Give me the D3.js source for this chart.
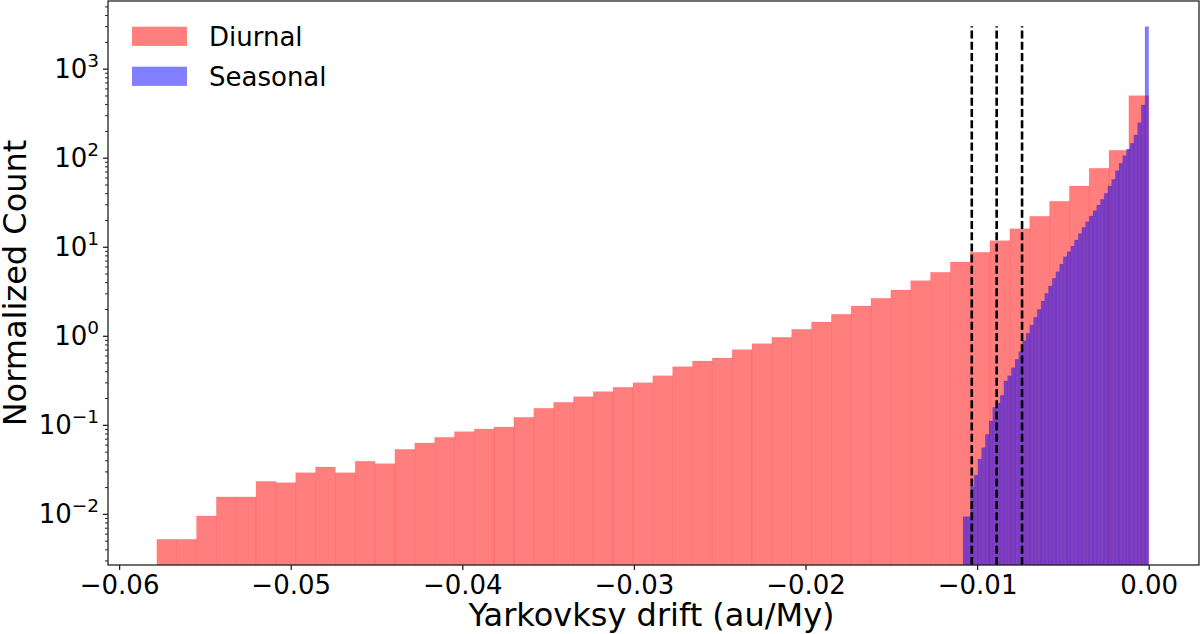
<!DOCTYPE html>
<html>
<head>
<meta charset="utf-8">
<script src="https://cdn.jsdelivr.net/npm/d3@7"></script>
<style>
  body { margin: 0; background: #fff; }
  text { font-family: "DejaVu Sans", sans-serif; fill: #000; }
</style>
</head>
<body>
<div id="chart"></div>
<script>
// histogram data (normalized counts per bin)
let diurnalRange = [-0.0578, 0.0]
let diurnalCounts = [0.00518, 0.00518, 0.00947, 0.0155, 0.0155, 0.0232, 0.0224, 0.0290, 0.0336, 0.0290,
    0.0390, 0.0366, 0.0531, 0.0625, 0.0724, 0.0838, 0.0898, 0.0946, 0.1215, 0.1534,
    0.179, 0.207, 0.236, 0.264, 0.297, 0.356, 0.450, 0.521, 0.563, 0.698,
    0.815, 0.962, 1.183, 1.429, 1.744, 2.161, 2.638, 3.269, 4.157, 5.168,
    6.743, 8.666, 11.70, 15.95, 21.98, 32.4, 48.1, 76.1, 121.2, 497]

let seasonalRange = [-0.01082, 0.0]
let seasonalCounts = [0.0093, 0.0093, 0.0200, 0.0273, 0.0413, 0.0554, 0.0783, 0.1104, 0.1574, 0.176,
    0.2147, 0.311, 0.356, 0.438, 0.545, 0.663, 0.881, 1.067, 1.322, 1.614,
    1.984, 2.459, 3.0, 3.625, 4.424, 5.248, 6.40, 7.73, 8.80, 10.2,
    11.91, 14.02, 16.54, 19.11, 22.16, 25.4, 29.4, 34.1, 39.8, 48.1,
    57.2, 71.5, 86.6, 105.4, 125.3, 145.2, 180, 247, 391, 2962]

let markerLines = [-0.01031, -0.00886, -0.00738]
let markerTop = 3000

let xTicks = [-0.06, -0.05, -0.04, -0.03, -0.02, -0.01, 0.0]
let yExponents = [-2, -1, 0, 1, 2, 3]
let seriesNames = ["Diurnal", "Seasonal"]

let margin = {top: 1, right: 1, bottom: 69, left: 108}
let width = 1200 - margin.left - margin.right,
    height = 634 - margin.top - margin.bottom;

let svg = d3.select("#chart")
    .append("svg")
    .attr("width", 1200)
    .attr("height", 634)

let g = svg.append("g")
    .attr("transform", "translate(" + margin.left + "," + margin.top + ")");

let x = d3.scaleLinear()
    .domain([-0.060647, 0.002931])
    .range([0, width]);

let y = d3.scaleLog()
    .domain([0.002667, 5754])
    .range([height, 0]);

// turn counts into bins with equal widths over the range
function toBins(range, counts) {
    let w = (range[1] - range[0]) / counts.length
    return counts.map(function (c, i) {
        return {x0: range[0] + i * w, x1: range[0] + (i + 1) * w, v: c}
    })
}

function drawBars(bins, color) {
    g.append("g").selectAll("rect")
        .data(bins)
        .enter()
        .append("rect")
        .attr("x", function (d) { return x(d.x0); })
        .attr("width", function (d) { return x(d.x1) - x(d.x0); })
        .attr("y", function (d) { return y(d.v); })
        .attr("height", function (d) { return height - y(d.v); })
        .attr("fill", color)
        .attr("fill-opacity", 0.5)
        .attr("stroke", color)
        .attr("stroke-opacity", 0.12)
        .attr("stroke-width", 0.8);
}

drawBars(toBins(diurnalRange, diurnalCounts), "red")
drawBars(toBins(seasonalRange, seasonalCounts), "blue")

// dashed marker lines
g.append("g").selectAll("line")
    .data(markerLines)
    .enter()
    .append("line")
    .attr("x1", function (d) { return x(d); })
    .attr("x2", function (d) { return x(d); })
    .attr("y1", height)
    .attr("y2", y(markerTop))
    .attr("stroke", "#000")
    .attr("stroke-width", 2.6)
    .attr("stroke-dasharray", "8,3.2");

// x axis
let xAxis = g.append("g")
    .attr("transform", "translate(0," + height + ")")
    .call(d3.axisBottom(x).tickValues(xTicks).tickSize(5).tickPadding(6)
        .tickFormat(d3.format(".2f")));
xAxis.select(".domain").remove();
xAxis.selectAll(".tick line").attr("stroke", "#222").attr("stroke-width", 1.3);
xAxis.selectAll(".tick text")
    .style("font-family", "DejaVu Sans")
    .style("font-size", "26px");

// y axis, major + minor log ticks
let minorTicks = []
yExponents.concat([-3]).forEach(function (e) {
    for (let k = 2; k < 10; k++) {
        let v = k * Math.pow(10, e)
        if (v > y.domain()[0] && v < y.domain()[1]) minorTicks.push(v)
    }
})

let yMinor = g.append("g")
    .call(d3.axisLeft(y).tickValues(minorTicks).tickSize(3).tickFormat(""));
yMinor.select(".domain").remove();
yMinor.selectAll(".tick line").attr("stroke", "#222").attr("stroke-width", 1);

let yAxis = g.append("g")
    .call(d3.axisLeft(y).tickValues(yExponents.map(function (e) { return Math.pow(10, e); }))
        .tickSize(5).tickFormat(""));
yAxis.select(".domain").remove();
yAxis.selectAll(".tick line").attr("stroke", "#222").attr("stroke-width", 1.3);

// 10^n labels
let yLab = g.append("g").selectAll("text")
    .data(yExponents)
    .enter()
    .append("text")
    .attr("x", -9)
    .attr("y", function (d) { return y(Math.pow(10, d)) + 9.5; })
    .attr("text-anchor", "end")
    .style("font-size", "26px");
yLab.append("tspan").text("10");
yLab.append("tspan")
    .attr("dy", -11)
    .style("font-size", "18.5px")
    .text(function (d) { return d < 0 ? "\u2212" + Math.abs(d) : d; });

// frame
g.append("rect")
    .attr("width", width)
    .attr("height", height)
    .attr("fill", "none")
    .attr("stroke", "#222")
    .attr("stroke-width", 1.3);

// axis labels
svg.append("text")
    .attr("x", margin.left + width / 2 - 2)
    .attr("y", 626)
    .attr("text-anchor", "middle")
    .style("font-size", "32px")
    .text("Yarkovksy drift (au/My)");

svg.append("text")
    .attr("transform", "translate(26," + (margin.top + height / 2) + ") rotate(-90)")
    .attr("text-anchor", "middle")
    .style("font-size", "32px")
    .text("Normalized Count");

// legend
let legend = g.append("g").selectAll("g")
    .data(seriesNames)
    .enter()
    .append("g")
    .attr("transform", function (d, i) { return "translate(24," + (25.7 + i * 40) + ")"; });
legend.append("rect")
    .attr("width", 55)
    .attr("height", 19.2)
    .attr("fill", function (d, i) { return i === 0 ? "red" : "blue"; })
    .attr("fill-opacity", 0.5);
legend.append("text")
    .attr("x", 77)
    .attr("y", 19)
    .style("font-size", "26px")
    .text(function (d) { return d; });
</script>
</body>
</html>
